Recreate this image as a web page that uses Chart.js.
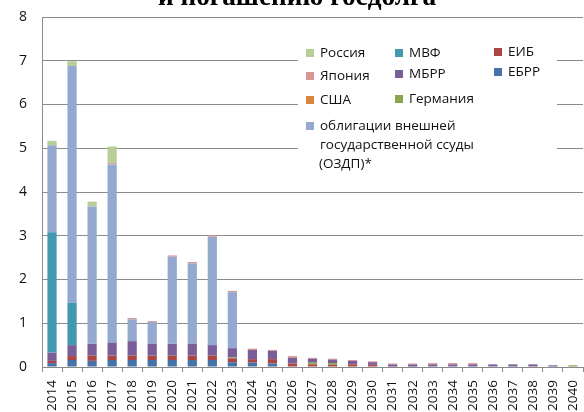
<!DOCTYPE html>
<html>
<head>
<meta charset="utf-8">
<script src="https://cdn.jsdelivr.net/npm/chart.js@4"></script>
<style>
  html, body { margin: 0; padding: 0; background: #fff; }
  #wrap { width: 584px; height: 412px; }
</style>
</head>
<body>
<div id="wrap"><canvas id="grafico" width="584" height="412"></canvas></div>
<script>
// годы погашения
const anos = ["2014","2015","2016","2017","2018","2019","2020","2021","2022","2023","2024","2025","2026",
  "2027","2028","2029","2030","2031","2032","2033","2034","2035","2036","2037","2038","2039","2040"];

// значения по кредиторам (снизу вверх в стеке)
const ebrr     = [0.09,0.16,0.14,0.16,0.16,0.16,0.16,0.16,0.16,0.11,0.10,0.08,0,0,0,0,0,0,0,0,0,0,0,0,0,0,0];
const eib      = [0.05,0.09,0.12,0.10,0.10,0.10,0.10,0.10,0.10,0.09,0.08,0.10,0.08,0.06,0.05,0.06,0.05,0.01,0.01,0,0,0,0,0,0,0,0];
const germania = [0,0,0,0,0,0,0,0,0,0.02,0,0,0,0.04,0.04,0,0,0,0,0,0,0,0,0,0,0,0.04];
const ssha     = [0,0,0,0,0,0,0,0,0,0,0,0,0,0,0,0,0,0,0,0,0,0,0,0,0,0,0];
const mbrr     = [0.19,0.25,0.27,0.29,0.33,0.27,0.27,0.27,0.24,0.21,0.21,0.19,0.13,0.09,0.08,0.08,0.06,0.05,0.05,0.06,0.06,0.06,0.06,0.06,0.06,0.04,0];
const mvf      = [2.75,0.97,0,0,0,0,0,0,0,0,0,0,0,0,0,0,0,0,0,0,0,0,0,0,0,0,0];
const ozdp     = [1.99,5.41,3.14,4.08,0.50,0.50,1.99,1.84,2.48,1.28,0,0,0,0,0,0,0,0,0,0,0,0,0,0,0,0,0];
const yaponia  = [0,0,0,0.03,0.03,0.02,0.03,0.03,0.03,0.03,0.03,0.02,0.04,0.02,0.02,0.02,0.02,0.02,0.02,0.03,0.03,0.03,0,0,0,0,0];
const rossia   = [0.10,0.11,0.11,0.38,0,0,0,0,0,0,0,0,0,0,0,0,0,0,0,0,0,0,0,0,0,0,0];

const marcas = [0,1,2,3,4,5,6,7,8];

const series = [
  { label: "ЕБРР", data: ebrr, color: "#4572A7" },
  { label: "ЕИБ", data: eib, color: "#AA4643" },
  { label: "Германия", data: germania, color: "#89A54E" },
  { label: "США", data: ssha, color: "#DB843D" },
  { label: "МБРР", data: mbrr, color: "#7A5E98" },
  { label: "МВФ", data: mvf, color: "#4198AF" },
  { label: "облигации внешней государственной ссуды (ОЗДП)*", data: ozdp, color: "#93A9CF" },
  { label: "Япония", data: yaponia, color: "#D99694" },
  { label: "Россия", data: rossia, color: "#B9CD96" }
];

// расположение пунктов легенды (как в оригинале)
const legendaPos = [
  { s: "Россия", x: 306, y: 53 }, { s: "МВФ", x: 395, y: 53 }, { s: "ЕИБ", x: 494, y: 52 },
  { s: "Япония", x: 306, y: 76 }, { s: "МБРР", x: 395, y: 74 }, { s: "ЕБРР", x: 494, y: 72 },
  { s: "США", x: 306, y: 100 }, { s: "Германия", x: 395, y: 99 }
];

const fuente = '"Open Sans", "DejaVu Sans", sans-serif';

const extras = {
  id: "extras",
  afterDraw(chart) {
    const c = chart.ctx;
    c.save();
    // заголовок (обрезан сверху)
    let size = 26;
    const titulo = "и погашению госдолга";
    c.font = "bold " + size + 'px "Liberation Serif", serif';
    size = size * 278 / c.measureText(titulo).width;
    c.font = "bold " + size.toFixed(1) + 'px "Liberation Serif", serif';
    c.fillStyle = "#000";
    c.textAlign = "center";
    c.textBaseline = "alphabetic";
    c.fillText(titulo, 297, 5);

    // легенда
    c.fillStyle = "#fff";
    c.fillRect(298, 34, 259, 146);
    c.font = "13.5px " + fuente;
    c.textAlign = "left";
    c.textBaseline = "middle";
    const col = {};
    series.forEach(s => col[s.label] = s.color);
    legendaPos.forEach(p => {
      c.fillStyle = col[p.s];
      c.fillRect(p.x, p.y - 4, 8, 8);
      c.fillStyle = "#111";
      c.fillText(p.s, p.x + 14, p.y);
    });
    c.fillStyle = col["облигации внешней государственной ссуды (ОЗДП)*"];
    c.fillRect(306, 122, 8, 8);
    c.fillStyle = "#111";
    c.fillText("облигации внешней", 320, 126);
    c.fillText("государственной ссуды", 320, 145);
    c.fillText("(ОЗДП)*", 319, 164);
    c.restore();
  }
};

const ctx = document.getElementById("grafico").getContext("2d");
new Chart(ctx, {
  type: "bar",
  data: {
    labels: anos,
    datasets: series.map(s => ({
      label: s.label,
      data: s.data,
      backgroundColor: s.color,
      borderWidth: 0,
      categoryPercentage: 0.46,
      barPercentage: 1
    }))
  },
  options: {
    responsive: false,
    animation: false,
    layout: { padding: { top: 17, right: 1, left: 0, bottom: 0 } },
    plugins: { legend: { display: false }, tooltip: { enabled: false } },
    scales: {
      x: {
        stacked: true,
        grid: { offset: true, drawOnChartArea: false, color: "#888", tickLength: 5 },
        border: { color: "#888" },
        ticks: { minRotation: 90, maxRotation: 90, autoSkip: false, color: "#111", padding: 8,
                 font: { family: fuente, size: 13.5 } },
        afterFit(scale) { scale.height = 45; scale.paddingLeft = 0; scale.paddingRight = 0; }
      },
      y: {
        stacked: true,
        min: 0, max: 8,
        afterBuildTicks(scale) { scale.ticks = marcas.map(v => ({ value: v })); },
        grid: { color: "#8c8c8c", drawTicks: false },
        border: { color: "#8c8c8c" },
        ticks: { color: "#111", padding: 15, font: { family: fuente, size: 14 } },
        afterFit(scale) { scale.width = 42; scale.paddingTop = 0; scale.paddingBottom = 0; }
      }
    }
  },
  plugins: [extras]
});
</script>
</body>
</html>
